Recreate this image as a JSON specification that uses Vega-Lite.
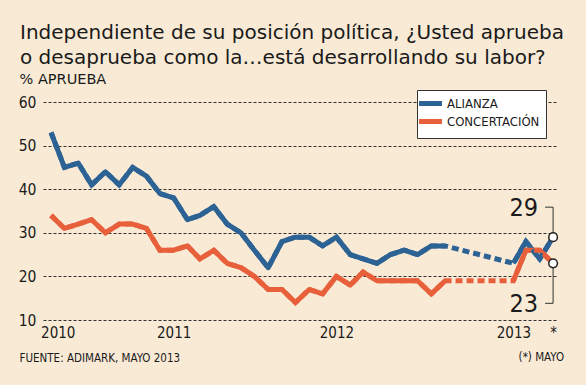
{
  "$schema": "https://vega.github.io/schema/vega-lite/v6.json",
  "width": 515,
  "height": 218,
  "autosize": {"type": "none"},
  "padding": {"left": 43, "top": 102, "right": 28, "bottom": 65},
  "background": "#f9ead6",
  "config": {
    "font": "DejaVu Sans Condensed",
    "view": {"stroke": null},
    "axis": {"labelColor": "#1a1a1a", "titleColor": "#1a1a1a", "titleFontWeight": "normal"},
    "legend": {"labelColor": "#1a1a1a"}
  },
  "title": {
    "text": ["Independiente de su posición política, ¿Usted aprueba", "o desaprueba como la…está desarrollando su labor?"],
    "anchor": "start",
    "frame": "group",
    "dx": -23,
    "font": "DejaVu Sans",
    "fontSize": 20,
    "fontWeight": "normal",
    "color": "#1a1a1a",
    "lineHeight": 25,
    "offset": 3
  },
  "data": {
    "values": [
      {"fecha": "2010-04-01", "partido": "ALIANZA", "valor": 53, "tramo": "a"},
      {"fecha": "2010-05-01", "partido": "ALIANZA", "valor": 45, "tramo": "a"},
      {"fecha": "2010-06-01", "partido": "ALIANZA", "valor": 46, "tramo": "a"},
      {"fecha": "2010-07-01", "partido": "ALIANZA", "valor": 41, "tramo": "a"},
      {"fecha": "2010-08-01", "partido": "ALIANZA", "valor": 44, "tramo": "a"},
      {"fecha": "2010-09-01", "partido": "ALIANZA", "valor": 41, "tramo": "a"},
      {"fecha": "2010-10-01", "partido": "ALIANZA", "valor": 45, "tramo": "a"},
      {"fecha": "2010-11-01", "partido": "ALIANZA", "valor": 43, "tramo": "a"},
      {"fecha": "2010-12-01", "partido": "ALIANZA", "valor": 39, "tramo": "a"},
      {"fecha": "2011-01-01", "partido": "ALIANZA", "valor": 38, "tramo": "a"},
      {"fecha": "2011-02-01", "partido": "ALIANZA", "valor": 33, "tramo": "a"},
      {"fecha": "2011-03-01", "partido": "ALIANZA", "valor": 34, "tramo": "a"},
      {"fecha": "2011-04-01", "partido": "ALIANZA", "valor": 36, "tramo": "a"},
      {"fecha": "2011-05-01", "partido": "ALIANZA", "valor": 32, "tramo": "a"},
      {"fecha": "2011-06-01", "partido": "ALIANZA", "valor": 30, "tramo": "a"},
      {"fecha": "2011-07-01", "partido": "ALIANZA", "valor": 26, "tramo": "a"},
      {"fecha": "2011-08-01", "partido": "ALIANZA", "valor": 22, "tramo": "a"},
      {"fecha": "2011-09-01", "partido": "ALIANZA", "valor": 28, "tramo": "a"},
      {"fecha": "2011-10-01", "partido": "ALIANZA", "valor": 29, "tramo": "a"},
      {"fecha": "2011-11-01", "partido": "ALIANZA", "valor": 29, "tramo": "a"},
      {"fecha": "2011-12-01", "partido": "ALIANZA", "valor": 27, "tramo": "a"},
      {"fecha": "2012-01-01", "partido": "ALIANZA", "valor": 29, "tramo": "a"},
      {"fecha": "2012-02-01", "partido": "ALIANZA", "valor": 25, "tramo": "a"},
      {"fecha": "2012-03-01", "partido": "ALIANZA", "valor": 24, "tramo": "a"},
      {"fecha": "2012-04-01", "partido": "ALIANZA", "valor": 23, "tramo": "a"},
      {"fecha": "2012-05-01", "partido": "ALIANZA", "valor": 25, "tramo": "a"},
      {"fecha": "2012-06-01", "partido": "ALIANZA", "valor": 26, "tramo": "a"},
      {"fecha": "2012-07-01", "partido": "ALIANZA", "valor": 25, "tramo": "a"},
      {"fecha": "2012-08-01", "partido": "ALIANZA", "valor": 27, "tramo": "a"},
      {"fecha": "2012-09-01", "partido": "ALIANZA", "valor": 27, "tramo": "a"},
      {"fecha": "2013-02-01", "partido": "ALIANZA", "valor": 23, "tramo": "b"},
      {"fecha": "2013-03-01", "partido": "ALIANZA", "valor": 28, "tramo": "b"},
      {"fecha": "2013-04-01", "partido": "ALIANZA", "valor": 24, "tramo": "b"},
      {"fecha": "2013-05-01", "partido": "ALIANZA", "valor": 29, "tramo": "b"},
      {"fecha": "2010-04-01", "partido": "CONCERTACIÓN", "valor": 34, "tramo": "a"},
      {"fecha": "2010-05-01", "partido": "CONCERTACIÓN", "valor": 31, "tramo": "a"},
      {"fecha": "2010-06-01", "partido": "CONCERTACIÓN", "valor": 32, "tramo": "a"},
      {"fecha": "2010-07-01", "partido": "CONCERTACIÓN", "valor": 33, "tramo": "a"},
      {"fecha": "2010-08-01", "partido": "CONCERTACIÓN", "valor": 30, "tramo": "a"},
      {"fecha": "2010-09-01", "partido": "CONCERTACIÓN", "valor": 32, "tramo": "a"},
      {"fecha": "2010-10-01", "partido": "CONCERTACIÓN", "valor": 32, "tramo": "a"},
      {"fecha": "2010-11-01", "partido": "CONCERTACIÓN", "valor": 31, "tramo": "a"},
      {"fecha": "2010-12-01", "partido": "CONCERTACIÓN", "valor": 26, "tramo": "a"},
      {"fecha": "2011-01-01", "partido": "CONCERTACIÓN", "valor": 26, "tramo": "a"},
      {"fecha": "2011-02-01", "partido": "CONCERTACIÓN", "valor": 27, "tramo": "a"},
      {"fecha": "2011-03-01", "partido": "CONCERTACIÓN", "valor": 24, "tramo": "a"},
      {"fecha": "2011-04-01", "partido": "CONCERTACIÓN", "valor": 26, "tramo": "a"},
      {"fecha": "2011-05-01", "partido": "CONCERTACIÓN", "valor": 23, "tramo": "a"},
      {"fecha": "2011-06-01", "partido": "CONCERTACIÓN", "valor": 22, "tramo": "a"},
      {"fecha": "2011-07-01", "partido": "CONCERTACIÓN", "valor": 20, "tramo": "a"},
      {"fecha": "2011-08-01", "partido": "CONCERTACIÓN", "valor": 17, "tramo": "a"},
      {"fecha": "2011-09-01", "partido": "CONCERTACIÓN", "valor": 17, "tramo": "a"},
      {"fecha": "2011-10-01", "partido": "CONCERTACIÓN", "valor": 14, "tramo": "a"},
      {"fecha": "2011-11-01", "partido": "CONCERTACIÓN", "valor": 17, "tramo": "a"},
      {"fecha": "2011-12-01", "partido": "CONCERTACIÓN", "valor": 16, "tramo": "a"},
      {"fecha": "2012-01-01", "partido": "CONCERTACIÓN", "valor": 20, "tramo": "a"},
      {"fecha": "2012-02-01", "partido": "CONCERTACIÓN", "valor": 18, "tramo": "a"},
      {"fecha": "2012-03-01", "partido": "CONCERTACIÓN", "valor": 21, "tramo": "a"},
      {"fecha": "2012-04-01", "partido": "CONCERTACIÓN", "valor": 19, "tramo": "a"},
      {"fecha": "2012-05-01", "partido": "CONCERTACIÓN", "valor": 19, "tramo": "a"},
      {"fecha": "2012-06-01", "partido": "CONCERTACIÓN", "valor": 19, "tramo": "a"},
      {"fecha": "2012-07-01", "partido": "CONCERTACIÓN", "valor": 19, "tramo": "a"},
      {"fecha": "2012-08-01", "partido": "CONCERTACIÓN", "valor": 16, "tramo": "a"},
      {"fecha": "2012-09-01", "partido": "CONCERTACIÓN", "valor": 19, "tramo": "a"},
      {"fecha": "2013-02-01", "partido": "CONCERTACIÓN", "valor": 19, "tramo": "b"},
      {"fecha": "2013-03-01", "partido": "CONCERTACIÓN", "valor": 26, "tramo": "b"},
      {"fecha": "2013-04-01", "partido": "CONCERTACIÓN", "valor": 26, "tramo": "b"},
      {"fecha": "2013-05-01", "partido": "CONCERTACIÓN", "valor": 23, "tramo": "b"}
    ],
    "format": {"parse": {"fecha": "date"}}
  },
  "encoding": {
    "x": {
      "field": "fecha",
      "type": "temporal",
      "scale": {"type": "utc", "domain": [{"year": 2010, "month": 3, "date": 14, "utc": true}, {"year": 2013, "month": 5, "date": 12, "utc": true}]},
      "axis": {
        "values": [
          {"year": 2010, "month": 4, "date": 16, "utc": true},
          {"year": 2011, "month": 1, "date": 1, "utc": true},
          {"year": 2012, "month": 1, "date": 1, "utc": true},
          {"year": 2013, "month": 2, "date": 1, "utc": true},
          {"year": 2013, "month": 5, "date": 1, "utc": true}
        ],
        "labelExpr": "utcyear(datum.value) == 2013 && utcmonth(datum.value) == 4 ? '*' : utcFormat(datum.value, '%Y')",
        "ticks": false,
        "domain": false,
        "grid": false,
        "labelFontSize": 15,
        "labelPadding": 5,
        "labelFlush": false,
        "labelOverlap": false,
        "title": "FUENTE: ADIMARK, MAYO 2013",
        "titleFontSize": 11.5,
        "titleAnchor": "start",
        "titleAlign": "left",
        "titleBaseline": "alphabetic",
        "titleX": -24,
        "titleY": 41
      }
    },
    "y": {
      "field": "valor",
      "type": "quantitative",
      "scale": {"domain": [10, 60], "nice": false, "zero": false},
      "axis": {
        "values": [10, 20, 30, 40, 50, 60],
        "grid": true,
        "gridDash": [3, 2],
        "gridColor": "#333333",
        "gridWidth": 1,
        "gridOpacity": 1,
        "ticks": false,
        "domain": false,
        "labelFontSize": 15.5,
        "labelPadding": 7,
        "title": "% APRUEBA",
        "titleFont": "DejaVu Sans",
        "titleFontSize": 14.5,
        "titleAngle": 0,
        "titleAlign": "left",
        "titleBaseline": "alphabetic",
        "titleX": -24,
        "titleY": -19
      }
    }
  },
  "layer": [
    {
      "mark": {"type": "line", "strokeWidth": 5, "strokeJoin": "round"},
      "encoding": {
        "color": {
          "field": "partido",
          "type": "nominal",
          "scale": {"domain": ["ALIANZA", "CONCERTACIÓN"], "range": ["#2c6394", "#e8603b"]},
          "legend": {
            "orient": "none",
            "legendX": 374,
            "legendY": -12,
            "title": null,
            "symbolType": "M-2.3,0H2.3",
            "symbolSize": 100,
            "symbolStrokeWidth": 5,
            "labelFontSize": 13,
            "labelOffset": 9,
            "rowPadding": -5,
            "padding": 6,
            "fillColor": "white",
            "strokeColor": "#333333",
            "cornerRadius": 0
          }
        },
        "detail": {"field": "tramo"}
      }
    },
    {
      "mark": {"type": "line", "strokeWidth": 5, "strokeDash": [7, 4]},
      "encoding": {
        "color": {"field": "partido", "type": "nominal", "legend": null}
      }
    },
    {
      "transform": [{"filter": "datum.partido == 'ALIANZA' && time(datum.fecha) == utc(2013, 4, 1)"}],
      "mark": {"type": "rule", "y2Offset": -30, "color": "#333333", "strokeWidth": 1},
      "encoding": {"y2": {"field": "valor"}}
    },
    {
      "transform": [{"filter": "datum.partido == 'ALIANZA' && time(datum.fecha) == utc(2013, 4, 1)"}],
      "mark": {"type": "rule", "xOffset": -8, "yOffset": -30, "color": "#333333", "strokeWidth": 1},
      "encoding": {"x2": {"field": "fecha"}}
    },
    {
      "transform": [{"filter": "datum.partido == 'CONCERTACIÓN' && time(datum.fecha) == utc(2013, 4, 1)"}],
      "mark": {"type": "rule", "y2Offset": 40, "color": "#333333", "strokeWidth": 1},
      "encoding": {"y2": {"field": "valor"}}
    },
    {
      "transform": [{"filter": "datum.partido == 'CONCERTACIÓN' && time(datum.fecha) == utc(2013, 4, 1)"}],
      "mark": {"type": "rule", "xOffset": -8, "yOffset": 40, "color": "#333333", "strokeWidth": 1},
      "encoding": {"x2": {"field": "fecha"}}
    },
    {
      "transform": [{"filter": "datum.partido == 'ALIANZA' && time(datum.fecha) == utc(2013, 4, 1)"}],
      "mark": {"type": "text", "align": "right", "baseline": "alphabetic", "dx": -15, "dy": -21, "fontSize": 25, "color": "#1a1a1a"},
      "encoding": {"text": {"field": "valor"}}
    },
    {
      "transform": [{"filter": "datum.partido == 'CONCERTACIÓN' && time(datum.fecha) == utc(2013, 4, 1)"}],
      "mark": {"type": "text", "align": "right", "baseline": "alphabetic", "dx": -15, "dy": 49, "fontSize": 25, "color": "#1a1a1a"},
      "encoding": {"text": {"field": "valor"}}
    },
    {
      "transform": [{"filter": "datum.partido == 'CONCERTACIÓN' && time(datum.fecha) == utc(2013, 4, 1)"}],
      "mark": {"type": "text", "align": "right", "baseline": "alphabetic", "dx": 11, "dy": 98, "fontSize": 11.5, "color": "#1a1a1a"},
      "encoding": {"text": {"value": "(*) MAYO"}}
    },
    {
      "transform": [{"filter": "time(datum.fecha) == utc(2013, 4, 1)"}],
      "mark": {"type": "point", "shape": "circle", "filled": true, "fill": "white", "stroke": "#222222", "strokeWidth": 1.5, "size": 75, "opacity": 1}
    }
  ]
}
